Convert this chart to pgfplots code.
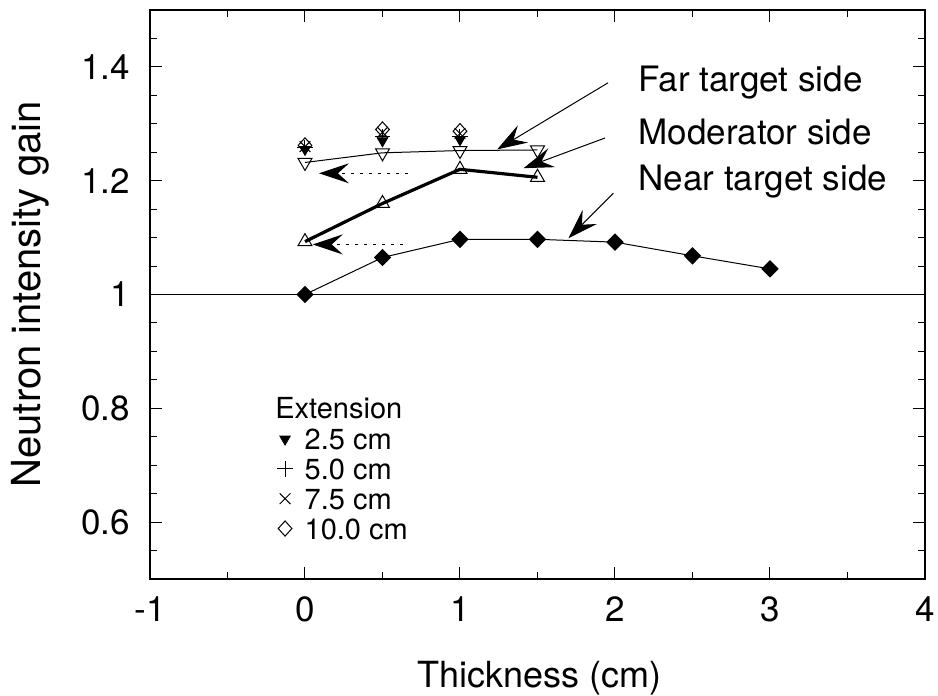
\documentclass[border=0pt]{standalone}
\usepackage{fontspec}
\setmainfont{TeX Gyre Heros}
\usepackage{pgfplots}
\pgfplotsset{compat=1.18}
\usetikzlibrary{arrows.meta}

\begin{document}
\fontsize{17.5}{20}\selectfont
\begin{tikzpicture}
\begin{axis}[
  at={(0,0)}, anchor=south west,
  scale only axis, width=387.5pt, height=284.5pt,
  xmin=-1, xmax=4, ymin=0.5, ymax=1.5,
  xtick={-1,0,1,2,3,4}, xticklabels={-1,0,1,2,3,4},
  minor xtick={-0.5,0.5,1.5,2.5,3.5},
  ytick={0.6,0.8,1,1.2,1.4}, yticklabels={0.6,0.8,1,1.2,1.4},
  minor ytick={0.55,0.65,0.7,0.75,0.85,0.9,0.95,1.05,1.1,1.15,1.25,1.3,1.35,1.45},
  tick align=inside, major tick length=6pt, minor tick length=3.5pt,
  axis line style={line width=0.6pt},
  every tick/.style={black, line width=0.5pt},
  ticklabel style={font=\fontsize{17.5}{20}\selectfont},
  xticklabel style={yshift=-3pt}, yticklabel style={xshift=-4pt},
  xlabel={Thickness (cm)}, ylabel={Neutron intensity gain},
  xlabel style={font=\fontsize{18}{21}\selectfont, inner sep=0pt,
    at={(axis description cs:0.503,-0.190)}, anchor=base},
  ylabel style={font=\fontsize{20}{23}\selectfont, at={(axis description cs:-0.155,0.5)}, anchor=center},
  legend style={draw=none, fill=none, at={(axis cs:-0.219,0.772)}, anchor=north west,
    row sep=4.4pt, column sep=6pt,
    nodes={inner sep=0pt, text height=10.5pt, text depth=0pt},
    font=\fontsize{14.5}{17}\selectfont},
  legend cell align=left,
]
% reference line
\addplot[black, line width=0.5pt, forget plot] coordinates {(-1,1) (4,1)};
% near target side
\addplot[black, line width=0.5pt, mark=diamond*, mark size=4pt,
  mark options={xscale=1.33, fill=black}, forget plot] coordinates {
  (0,1.000) (0.5,1.065) (1,1.097) (1.5,1.097) (2,1.092) (2.5,1.068) (3,1.045)};
% moderator side
\addplot[black, line width=1.6pt, mark=triangle, mark size=4pt,
  mark options={fill=white, line width=0.5pt}, forget plot] coordinates {
  (0,1.093) (0.5,1.160) (1,1.220) (1.5,1.206)};
% far target side
\addplot[black, line width=0.5pt, mark=triangle, mark size=4pt,
  mark options={fill=white, rotate=180, line width=0.5pt}, forget plot] coordinates {
  (0,1.232) (0.5,1.249) (1,1.253) (1.5,1.254)};
% extension series
\addplot[black, only marks, mark=triangle*, mark size=3pt,
  mark options={rotate=180, fill=black}] coordinates {
  (0,1.255) (0.5,1.270) (1,1.272)};
\addlegendentry{2.5 cm}
\addplot[black, only marks, mark=+, mark size=3.8pt, mark options={line width=0.5pt}] coordinates {
  (0,1.258) (0.5,1.277) (1,1.277)};
\addlegendentry{5.0 cm}
\addplot[black, only marks, mark=x, mark size=3.8pt, mark options={line width=0.5pt}] coordinates {
  (0,1.260) (0.5,1.285) (1,1.283)};
\addlegendentry{7.5 cm}
\addplot[black, only marks, mark=diamond, mark size=3.8pt,
  mark options={xscale=1.2, line width=0.5pt}] coordinates {
  (0,1.262) (0.5,1.290) (1,1.287)};
\addlegendentry{10.0 cm}

\node[anchor=west, inner sep=0pt, font=\fontsize{14.5}{17}\selectfont] at (axis cs:-0.194,0.800) {Extension};

\node[anchor=west, inner sep=0pt] at (axis cs:2.15,1.372) {Far target side};
\node[anchor=west, inner sep=0pt] at (axis cs:2.15,1.285) {Moderator side};
\node[anchor=west, inner sep=0pt] at (axis cs:2.15,1.198) {Near target side};

\draw[line width=0.5pt, -{Stealth[length=15pt,width=10pt,inset=5.5pt]}]
  (axis cs:1.955,1.372) -- (axis cs:1.24,1.255);
\draw[line width=0.5pt, -{Stealth[length=15pt,width=10pt,inset=5.5pt]}]
  (axis cs:1.935,1.275) -- (axis cs:1.41,1.222);
\draw[line width=0.5pt, -{Stealth[length=15pt,width=10pt,inset=5.5pt]}]
  (axis cs:1.99,1.178) -- (axis cs:1.70,1.099);
\draw[line width=0.5pt, dash pattern=on 1.5pt off 3pt, -{Stealth[length=15pt,width=10pt,inset=5.5pt]}]
  (axis cs:0.665,1.213) -- (axis cs:0.09,1.213);
\draw[line width=0.5pt, dash pattern=on 1.5pt off 3pt, -{Stealth[length=15pt,width=10pt,inset=5.5pt]}]
  (axis cs:0.63,1.088) -- (axis cs:0.05,1.088);
\end{axis}
\pgfresetboundingbox
\path[use as bounding box] (-75pt,-58.5pt) rectangle (394pt,289.5pt);
\end{tikzpicture}
\end{document}
